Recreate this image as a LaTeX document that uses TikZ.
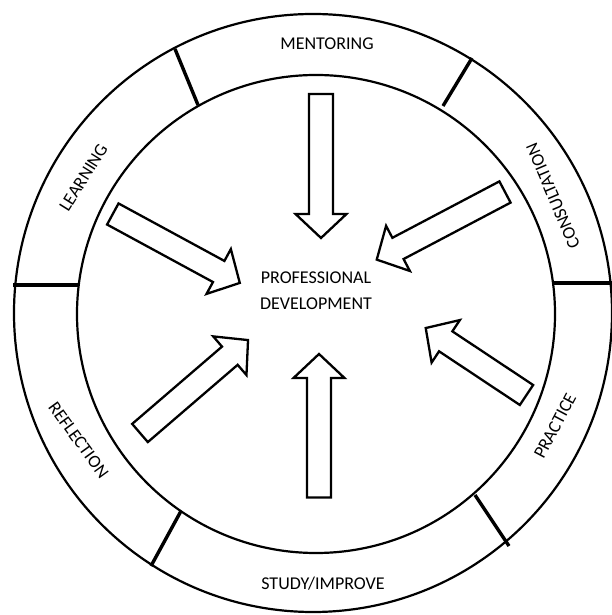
\documentclass[tikz,border=0pt]{standalone}
\usepackage{fontspec}
\setmainfont{Carlito}
\tikzset{
  ring/.style={line width=2.2pt},
  divider/.style={line width=3.4pt},
  lbl/.style={font=\fontsize{18}{26}\selectfont, inner sep=0pt},
  blockarrow/.style={line width=2.3pt, line join=miter},
  pics/barrow/.style={code={
    \draw[blockarrow] (0,-12) -- ({#1-24},-12) -- ({#1-24},-25.5) -- (#1,0)
      -- ({#1-24},25.5) -- ({#1-24},12) -- (0,12) -- cycle;}}
}
\begin{document}
\begin{tikzpicture}[x=1pt,y=1pt]
\useasboundingbox (0,0) rectangle (612,615);
\coordinate (O) at (313,302);
\coordinate (I) at (316,301);
\draw[ring] (O) circle[radius=299];
\draw[ring] (I) circle[radius=239];

% dividers
\coordinate (d1o) at (175,566); \coordinate (d1i) at (198,510);
\coordinate (d2o) at (472,557); \coordinate (d2i) at (443,509);
\coordinate (d3i) at (554,332); \coordinate (d3o) at (613,332);
\coordinate (d4o) at (13,330);  \coordinate (d4i) at (79,330);
\coordinate (d5o) at (151,49);  \coordinate (d5i) at (181,104);
\coordinate (d6o) at (509,69);  \coordinate (d6i) at (475,120);
\draw[divider] (d1o) -- (d1i);
\draw[divider] (d2o) -- (d2i);
\draw[divider] (d3i) -- (d3o);
\draw[divider] (d4o) -- (d4i);
\draw[divider] (d5o) -- (d5i);
\draw[divider] (d6o) -- (d6i);

% block arrows (tails)
\coordinate (amen) at (321,521);
\coordinate (astu) at (319,117.5);
\coordinate (alea) at (112.8,401);
\coordinate (acon) at (505,423);
\coordinate (aref) at (140,182);
\coordinate (apra) at (526.5,220);
\pic[rotate=-90] at (amen) {barrow=144};
\pic[rotate=90] at (astu) {barrow=143.5};
\pic[rotate=-28.5] at (alea) {barrow=144.5};
\pic[rotate=207.8] at (acon) {barrow=145};
\pic[rotate=40.7] at (aref) {barrow=142.5};
\pic[rotate=146.4] at (apra) {barrow=121};

% labels
\node[lbl] (mentoring) at (327,571) {MENTORING};
\node[lbl] (study) at (323,31.5) {STUDY/IMPROVE};
\node[lbl, rotate=58] (learning) at (83.5,437.4) {LEARNING};
\node[lbl, rotate=113] (consult) at (553,419) {CONSULTATION};
\node[lbl, rotate=62] (practice) at (555,189) {PRACTICE};
\node[lbl, rotate=-54] (reflection) at (78.5,175) {REFLECTION};
\node[lbl, align=center] (pd) at (316,324) {PROFESSIONAL\\DEVELOPMENT};
\end{tikzpicture}
\end{document}
